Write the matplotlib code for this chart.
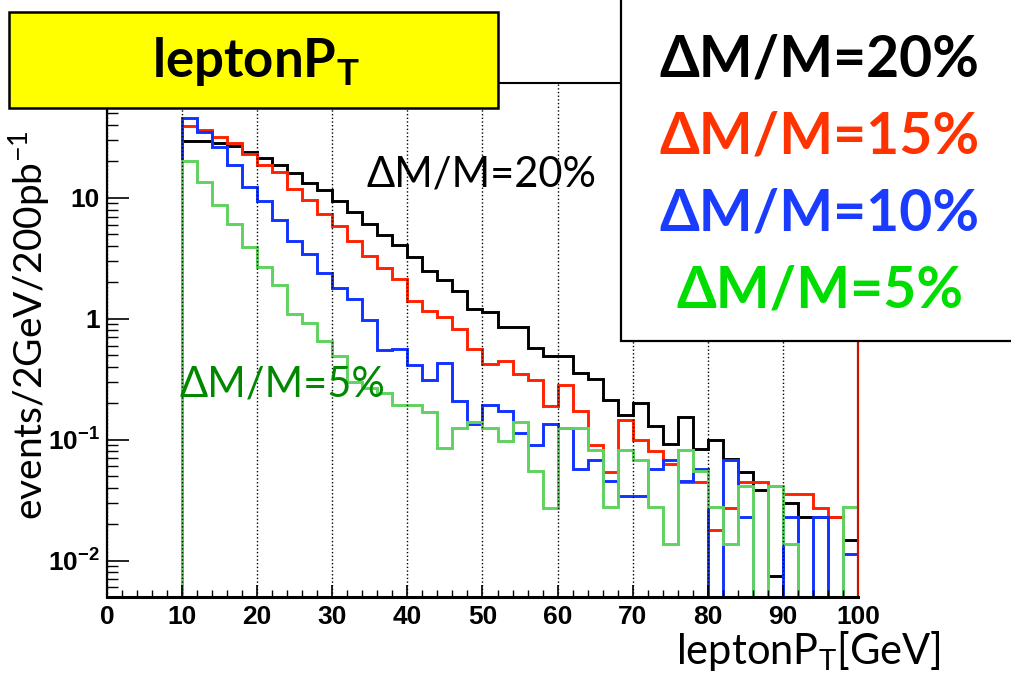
import matplotlib as mpl
mpl.use('agg')
import matplotlib.pyplot as plt
from matplotlib.patches import Rectangle
from matplotlib.ticker import LogLocator, NullFormatter, MultipleLocator
import numpy as np

plt.rcParams['mathtext.default'] = 'regular'

# histogram binning (2 GeV bins) and bin contents
edges = np.arange(0, 102, 2)

dm20 = [0, 0, 0, 0, 0,
        29.6, 29.3, 28.6, 26.9, 24.0, 21.5, 18.7, 16.0, 13.2, 11.6,
        9.5, 7.7, 6.1, 4.9, 4.1, 3.27, 2.46, 2.1, 1.70, 1.20,
        1.13, 0.85, 0.86, 0.57, 0.494, 0.494, 0.355, 0.316, 0.214, 0.161,
        0.200, 0.129, 0.092, 0.154, 0.084, 0.099, 0.069, 0.054, 0.038, 0.0075,
        0.030, 0.0228, 0.0228, 0.0228, 0.0149]
dm15 = [0, 0, 0, 0, 0,
        39.6, 36.5, 32.1, 28.6, 23.1, 18.7, 16.5, 11.9, 9.6, 7.4,
        5.9, 4.36, 3.33, 2.65, 2.13, 1.39, 1.15, 1.04, 0.82, 0.56,
        0.425, 0.444, 0.35, 0.309, 0.191, 0.281, 0.173, 0.091, 0.054, 0.145,
        0.100, 0.081, 0.063, 0.0447, 0.0447, 0.0178, 0.0272, 0.0447, 0.0447, 0.041,
        0.0358, 0.0358, 0.0272, 0.0228, 0]
dm10 = [0, 0, 0, 0, 0,
        45.5, 35.3, 26.1, 18.6, 12.3, 9.5, 6.6, 4.4, 3.4, 2.4,
        1.8, 1.46, 0.98, 0.547, 0.56, 0.417, 0.313, 0.43, 0.207, 0.135,
        0.195, 0.174, 0.114, 0.091, 0.135, 0.125, 0.0573, 0.068, 0.0458, 0.034,
        0.034, 0.0573, 0.068, 0.0458, 0.0573, 0, 0.068, 0.0228, 0, 0,
        0.0228, 0, 0.0228, 0, 0.0114]
dm05 = [0, 0, 0, 0, 0,
        20.3, 13.4, 8.75, 6.1, 3.9, 2.67, 1.91, 1.1, 0.93, 0.66,
        0.494, 0.298, 0.27, 0.241, 0.195, 0.195, 0.168, 0.085, 0.125, 0.139,
        0.125, 0.097, 0.139, 0.055, 0.027, 0.125, 0.125, 0.0826, 0.0275, 0.0826,
        0.068, 0.0275, 0.0138, 0.0826, 0.0547, 0.0275, 0.0138, 0.041, 0, 0.041,
        0.0138, 0, 0, 0, 0.0275]

labels = ['ΔM/M=20%', 'ΔM/M=15%', 'ΔM/M=10%', 'ΔM/M=5%']
line_colors = ['black', '#ff2200', '#1133ff', '#5fd35f']
text_colors = ['black', '#ff3300', '#1a3cff', '#00dd00']

ymin, ymax = 0.005, 89

W, H = 1012, 674
fig = plt.figure(figsize=(W / 100, H / 100), dpi=100)
ax = fig.add_axes([107 / W, 1 - 597 / H, (858 - 107) / W, (597 - 83) / H])

# empty bins sit on the frame bottom like ROOT does on log scale
for vals, c in zip([dm20, dm15, dm10, dm05], line_colors):
    v = np.clip(np.array(vals, dtype=float), ymin, None)
    ax.stairs(v, edges, baseline=ymin, fill=False, color=c, lw=2.1)

ax.set_yscale('log')
ax.set_xlim(0, 100)
ax.set_ylim(ymin, ymax)

tick_font = dict(family='Liberation Sans', weight='bold', size=19)
ax.xaxis.set_major_locator(MultipleLocator(10))
ax.xaxis.set_minor_locator(MultipleLocator(2))
ax.set_yticks([0.01, 0.1, 1, 10])
ax.set_yticklabels(['10$^{-2}$', '10$^{-1}$', '1', '10'])
ax.yaxis.set_minor_locator(LogLocator(base=10, subs=np.arange(2, 10)))
ax.yaxis.set_minor_formatter(NullFormatter())
for lab in ax.get_xticklabels() + ax.get_yticklabels():
    lab.set_fontproperties(mpl.font_manager.FontProperties(**tick_font))
ax.tick_params(axis='x', which='major', direction='in', length=9, width=1.2, pad=6)
ax.tick_params(axis='x', which='minor', direction='in', length=5, width=1.0)
ax.tick_params(axis='y', which='major', direction='in', length=16, width=1.2, pad=5)
ax.tick_params(axis='y', which='minor', direction='in', length=8, width=1.0)

ax.grid(axis='x', which='major', ls=':', color='black', lw=1.0)
ax.spines['left'].set_linewidth(1.6)
ax.spines['bottom'].set_linewidth(2.2)
ax.spines['top'].set_linewidth(1.5)
ax.spines['right'].set_linewidth(1.6)
ax.spines['right'].set_color('#cc1100')

# in-plot annotations
ax.text(34.6, 15.5, 'ΔM/M=20%', family='Lato', fontsize=30, color='black', va='center')
ax.text(9.6, 0.285, 'ΔM/M=5%', family='Lato', fontsize=30, color='#008800', va='center')

# yellow title box
fig.patches.append(Rectangle((9 / W, 1 - 108 / H), 489 / W, 96 / H, transform=fig.transFigure,
                             facecolor='#ffff00', edgecolor='black', lw=1.8, zorder=5))
fig.text(256 / W, 1 - 62 / H, 'leptonP$_T$', family='Lato', weight='bold', fontsize=38,
         ha='center', va='center', zorder=6)

# legend box
fig.patches.append(Rectangle((621 / W, 1 - 341 / H), 400 / W, 350 / H, transform=fig.transFigure,
                             facecolor='white', edgecolor='black', lw=1.6, zorder=5))
for i, (lab, c) in enumerate(zip(labels, text_colors)):
    fig.text(820 / W, 1 - (60 + 77 * i) / H, lab, family='Lato', weight='bold', fontsize=41,
             color=c, ha='center', va='center', zorder=6)

fig.text(29 / W, 1 - 325 / H, 'events/2GeV/200pb$^{-1}$', family='Lato', fontsize=28,
         rotation=90, ha='center', va='center')
fig.text(676 / W, 1 - 664 / H, 'leptonP$_T$[GeV]', family='Lato', fontsize=30,
         ha='left', va='baseline')

plt.savefig('out.png', dpi=100)
